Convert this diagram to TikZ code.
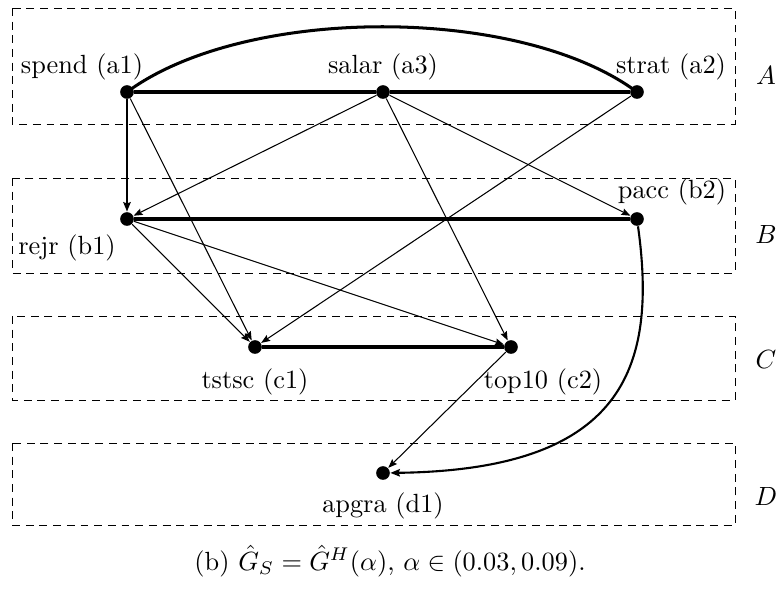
\documentclass[tikz,border=0pt]{standalone}
\usetikzlibrary{arrows.meta}
\begin{document}
\begin{tikzpicture}[x=0.38pt,y=-0.38pt,
  dot/.style={circle,fill=black,inner sep=0pt,minimum size=5.2pt},
  lab/.style={inner sep=0pt,font=\fontsize{10}{12}\selectfont},
  layer/.style={draw,line width=0.32pt,dash pattern=on 3pt off 2.2pt},
  und/.style={line width=1.15pt},
  dir/.style={line width=0.4pt,-{Stealth[length=3.4pt,width=2.6pt,inset=0.5pt]}},
  dirthick/.style={line width=0.8pt,-{Stealth[length=3.6pt,width=2.8pt,inset=0.5pt]}}]
\useasboundingbox (0,0) rectangle (781,596);
% layers
\draw[layer] (12,8) rectangle (735,124);
\draw[layer] (12,178) rectangle (735,273);
\draw[layer] (12,316) rectangle (735,400);
\draw[layer] (12,443) rectangle (735,525);
\node[lab] (LA) at (766,76) {$A$};
\node[lab] (LB) at (766,235) {$B$};
\node[lab] (LC) at (766,360) {$C$};
\node[lab] (LD) at (766,497) {$D$};
% nodes
\node[dot] (a1) at (127,92) {};
\node[dot] (a3) at (383,92) {};
\node[dot] (a2) at (637,92) {};
\node[dot] (b1) at (127,219) {};
\node[dot] (b2) at (637,219) {};
\node[dot] (c1) at (255,347) {};
\node[dot] (c2) at (511,347) {};
\node[dot] (d1) at (383,473) {};
% labels
\node[lab] (ta1) at (82,67) {spend (a1)};
\node[lab] (ta3) at (383,67) {salar (a3)};
\node[lab] (ta2) at (671,67) {strat (a2)};
\node[lab] (tb2) at (672,192) {pacc (b2)};
\node[lab] (tb1) at (67,248) {rejr (b1)};
\node[lab] (tc1) at (255,382) {tstsc (c1)};
\node[lab] (tc2) at (543,382) {top10 (c2)};
\node[lab] (td1) at (383,506) {apgra (d1)};
% undirected edges
\draw[und] (a1) -- (a3);
\draw[und] (a3) -- (a2);
\draw[und] (a1.center) .. controls (245,5) and (520,5) .. (a2.center);
\draw[und] (b1) -- (b2);
\draw[und] (c1) -- (c2);
% directed edges
\draw[dirthick] (a1) -- (b1);
\draw[dir] (a1) -- (c1);
\draw[dir] (a3) -- (b1);
\draw[dir] (a3) -- (c2);
\draw[dir] (a3) -- (b2);
\draw[dir] (a2) -- (c1);
\draw[dir] (b1) -- (c1);
\draw[dir] (b1) -- (c2);
\draw[dir] (c2) -- (d1);
\draw[dirthick] (b2) .. controls (658,370) and (622,470) .. (d1);
% caption
\node[lab] (cap) at (390,561) {(b) $\hat{G}_S = \hat{G}^H(\alpha)$, $\alpha \in (0.03, 0.09)$.};
\end{tikzpicture}
\end{document}
